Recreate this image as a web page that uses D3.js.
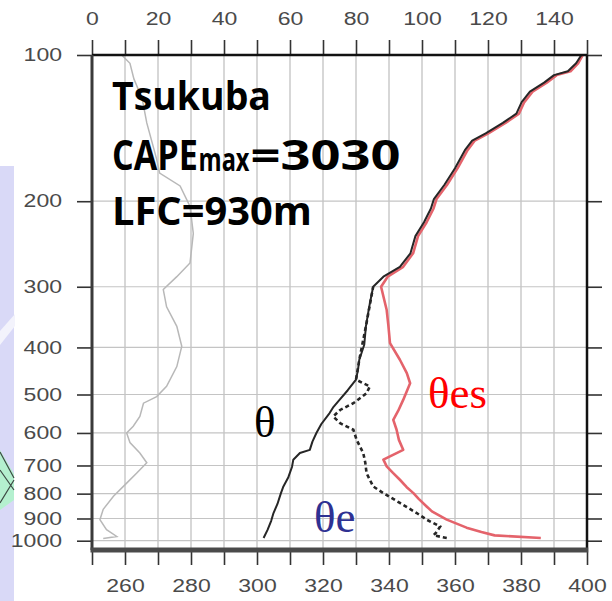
<!DOCTYPE html>
<html>
<head>
<meta charset="utf-8">
<script src="https://cdn.jsdelivr.net/npm/d3@7"></script>
<style>
  body { margin: 0; background: #fff; }
  svg { display: block; }
</style>
</head>
<body>
<svg id="chart" width="612" height="601"></svg>
<script>
// ---- axis ticks ----
const pressureTicks = [100, 200, 300, 400, 500, 600, 700, 800, 900, 1000];
const bottomTicks = [250, 260, 270, 280, 290, 300, 310, 320, 330, 340, 350, 360, 370, 380, 390, 400];
const bottomLabels = [260, 280, 300, 320, 340, 360, 380, 400];
const topTicks = [0, 10, 20, 30, 40, 50, 60, 70, 80, 90, 100, 110, 120, 130, 140, 150];
const topLabels = [0, 20, 40, 60, 80, 100, 120, 140];

// ---- theta (K) ----
const thetaP = [987, 950, 910, 877, 840, 800, 773, 740, 705, 681, 660, 650, 625, 600, 575, 546, 530, 513, 490, 466,
                445, 424, 395, 362, 330, 300, 286, 273, 256, 236, 221, 207, 198, 185, 171, 157, 150, 145, 138, 132,
                125, 119, 114, 110, 108, 104, 100];
const thetaV = [302.0, 303.2, 304.3, 305.0, 306.2, 307.2, 308.0, 309.5, 310.6, 311.0, 313.0, 316.0, 316.8, 318.0, 319.5, 322.0, 323.2, 325.0, 327.5, 330.0,
                330.6, 331.0, 332.5, 333.0, 334.0, 335.2, 338.3, 343.3, 346.5, 348.0, 350.6, 352.7, 353.6, 356.8, 360.0, 363.0, 365.2, 369.3, 374.5, 378.6,
                380.2, 382.7, 387.0, 390.0, 394.2, 396.7, 398.3];

// ---- theta-es (K) ----
const thetaEsP = [987, 975, 960, 940, 905, 870, 850, 820, 798, 775, 749, 725, 703, 681, 660, 650, 620, 591, 564, 540,
                  513, 474, 452, 424, 392, 360, 335, 300, 286, 273, 256, 236, 221, 207, 198, 185, 171, 157, 150, 145,
                  138, 132, 125, 119, 114, 110, 108, 104, 100];
const thetaEsV = [386, 372, 368, 363.5, 357.5, 353, 351.4, 349, 347.4, 345.3, 343.3, 341.2, 339.3, 338.3, 342.3, 344.3, 343, 342.3, 341.3, 342.8,
                  344.3, 346.4, 345.4, 343.3, 340.3, 339.8, 339.3, 337.6, 339.6, 344.3, 347.3, 348.8, 351.4, 353.5, 354.4, 357.6, 360.8, 363.8, 366.0, 370.1,
                  375.3, 379.4, 381.0, 383.5, 387.8, 390.8, 395.0, 397.3, 398.7];

// ---- theta-e (K) ----
const thetaEP = [987, 975, 960, 935, 905, 877, 836, 798, 773, 726, 690, 660, 620, 591, 573, 555, 538, 521, 497, 481,
                 474, 466, 424, 362, 300];
const thetaEV = [357.5, 353.5, 354.4, 355.5, 351.4, 348.4, 343.3, 338.3, 335.2, 333.2, 332.8, 332.2, 330.2, 329.2, 325.2, 323.1, 325.2, 329.2, 333.2, 334.2,
                 332.2, 330.0, 331.0, 333.0, 335.2];

// ---- grey profile on the upper axis ----
const upperP = [100, 104, 112, 123, 138, 164, 175, 186, 205, 233, 268, 286, 304, 330, 362, 398, 438, 481, 505, 521,
                555, 581, 600, 628, 660, 691, 726, 761, 810, 862, 905, 949, 980, 990];
const upperV = [9, 11.5, 12.7, 15.2, 16.6, 19.6, 20.5, 26.7, 29.7, 30.7, 29.7, 25.7, 21.6, 22.6, 25.7, 27.2, 25.7, 22.6, 19.6, 15.6,
                14.5, 12.5, 10.5, 11.5, 14.5, 16.6, 13.5, 10.5, 6.5, 3.4, 2.4, 4.4, 7.5, 3.4];

class SoundingChart {
    margin = {top: 55, right: 25, bottom: 51, left: 92}

    constructor(svg, width = 612, height = 601) {
        this.svg = d3.select(svg);
        this.width = width;
        this.height = height;
    }

    initialize() {
        const m = this.margin;
        this.x = d3.scaleLinear().domain([250, 400]).range([m.left, this.width - m.right]);
        this.xTop = d3.scaleLinear().domain([0, 150]).range([m.left, this.width - m.right]);
        this.y = d3.scaleLog().domain([100, 1045]).range([m.top, this.height - m.bottom]);

        this.back = this.svg.append("g");
        this.grid = this.svg.append("g");
        this.lines = this.svg.append("g");
        this.axes = this.svg.append("g");
        this.notes = this.svg.append("g");
    }

    // bits of the slide that show at the left edge
    drawBackdrop() {
        this.back.append("rect")
            .attr("x", 0).attr("y", 166).attr("width", 14).attr("height", 435)
            .attr("fill", "#d9d9f7");
        this.back.append("polygon")
            .attr("points", "0,331 15,314 15,326 0,345")
            .attr("fill", "#f3f3fc");
        this.back.append("polygon")
            .attr("points", "0,450 14,474 14,500 0,510")
            .attr("fill", "#b4f0cf");
        this.back.append("path")
            .attr("d", "M0,452 L14,478 M0,503 L14,480 M0,470 L14,490")
            .attr("stroke", "#3d4a44").attr("stroke-width", 1.2).attr("fill", "none");
    }

    drawGrid() {
        const [x0, x1] = this.x.range();
        const [y0, y1] = this.y.range();

        this.grid.selectAll(".v")
            .data(bottomTicks.slice(1, -1))
            .join("line")
                .attr("class", "v")
                .attr("x1", d => this.x(d)).attr("x2", d => this.x(d))
                .attr("y1", y0).attr("y2", y1)
                .attr("stroke", "#bdbdbd").attr("stroke-width", 1.2);

        this.grid.selectAll(".h")
            .data(pressureTicks.slice(1))
            .join("line")
                .attr("class", "h")
                .attr("x1", x0).attr("x2", x1)
                .attr("y1", d => this.y(d)).attr("y2", d => this.y(d))
                .attr("stroke", "#c4c4c4").attr("stroke-width", 1.2);
    }

    drawLines() {
        const lineOf = (xs, ps, vs) => d3.line()
            .x((d, i) => xs(vs[i]))
            .y(d => this.y(d))(ps);

        this.lines.append("path")
            .attr("d", lineOf(this.xTop, upperP, upperV))
            .attr("fill", "none").attr("stroke", "#b8b8b8").attr("stroke-width", 1.5);

        this.lines.append("path")
            .attr("d", lineOf(this.x, thetaEsP, thetaEsV))
            .attr("fill", "none").attr("stroke", "#e4636b").attr("stroke-width", 2.6)
            .attr("stroke-linejoin", "round");

        this.lines.append("path")
            .attr("d", lineOf(this.x, thetaP, thetaV))
            .attr("fill", "none").attr("stroke", "#262626").attr("stroke-width", 2)
            .attr("stroke-linejoin", "round");

        this.lines.append("path")
            .attr("d", lineOf(this.x, thetaEP, thetaEV))
            .attr("fill", "none").attr("stroke", "#262626").attr("stroke-width", 2.6)
            .attr("stroke-dasharray", "4,3");
    }

    drawAxes() {
        const sx = 1.28;
        const [x0, x1] = this.x.range();
        const [y0, y1] = this.y.range();

        const styled = (g) => {
            g.attr("font-family", "'Liberation Sans', Arial, sans-serif").attr("font-size", 18);
            g.select(".domain").remove();
            g.selectAll(".tick line").attr("stroke", "#333").attr("stroke-width", 1.6);
            g.selectAll(".tick text").attr("fill", "#4a4a4a").attr("transform", `scale(${sx},1)`);
        };

        this.axes.append("g")
            .attr("transform", `translate(0,${y1})`)
            .call(d3.axisBottom(this.x).tickValues(bottomTicks).tickSize(15).tickPadding(14)
                .tickFormat(d => bottomLabels.includes(d) ? d : ""))
            .call(styled);

        this.axes.append("g")
            .attr("transform", `translate(0,${y0})`)
            .call(d3.axisTop(this.xTop).tickValues(topTicks).tickSize(15).tickPadding(15)
                .tickFormat(d => topLabels.includes(d) ? d : ""))
            .call(styled);

        this.axes.append("g")
            .attr("transform", `translate(${x0},0)`)
            .call(d3.axisLeft(this.y).tickValues(pressureTicks).tickSize(15).tickPadding(15)
                .tickFormat(d => d))
            .call(styled)
            .call(g => g.selectAll(".tick text").attr("x", -30 / sx));

        this.axes.append("g")
            .attr("transform", `translate(${x1},0)`)
            .call(d3.axisRight(this.y).tickValues(pressureTicks).tickSize(15).tickFormat(""))
            .call(styled);

        // frame
        const frame = [
            {x1: x0, y1: y0, x2: x1, y2: y0, c: "#111", w: 2.5},
            {x1: x1, y1: y0, x2: x1, y2: y1, c: "#111", w: 2.5},
            {x1: x0, y1: y0, x2: x0, y2: y1, c: "#3a3a3a", w: 3},
            {x1: x0 - 1.5, y1: y1, x2: x1 + 1.2, y2: y1, c: "#4a4a4a", w: 5}
        ];
        this.axes.selectAll(".frame")
            .data(frame)
            .join("line")
                .attr("class", "frame")
                .attr("x1", d => d.x1).attr("y1", d => d.y1)
                .attr("x2", d => d.x2).attr("y2", d => d.y2)
                .attr("stroke", d => d.c).attr("stroke-width", d => d.w);
    }

    drawNotes() {
        const bold = "'Open Sans', 'Noto Sans', sans-serif";
        // each piece is squeezed/stretched to the width it has in the picture
        const words = [
            {t: "Tsukuba", x: 112, y: 110, s: 40, w: 159},
            {t: "CAPE", x: 112, y: 170, s: 42, w: 86},
            {t: "max", x: 198.5, y: 171, s: 33, w: 51},
            {t: "=3030", x: 250.5, y: 170, s: 42, w: 150},
            {t: "LFC=930m", x: 112, y: 225, s: 40, w: 200}
        ];
        this.notes.selectAll(".word")
            .data(words)
            .join("text")
                .attr("class", "word")
                .attr("font-family", bold).attr("font-weight", 700)
                .attr("font-size", d => d.s)
                .attr("fill", "#000")
                .text(d => d.t)
                .attr("transform", function(d) {
                    const k = d.w / this.getComputedTextLength();
                    return `translate(${d.x},${d.y}) scale(${k},1)`;
                });

        const serif = "'Liberation Serif', 'Times New Roman', serif";
        const greek = [
            {t: "θ", x: 254, y: 437, c: "#000"},
            {t: "θes", x: 428, y: 408, c: "#f00"},
            {t: "θe", x: 314, y: 532, c: "#2e3192"}
        ];
        this.notes.selectAll(".greek")
            .data(greek)
            .join("text")
                .attr("class", "greek")
                .attr("x", d => d.x).attr("y", d => d.y)
                .attr("font-family", serif).attr("font-size", 45)
                .attr("fill", d => d.c)
                .text(d => d.t);
    }
}

const chart = new SoundingChart("#chart");
chart.initialize();
chart.drawBackdrop();
chart.drawGrid();
chart.drawLines();
chart.drawAxes();
chart.drawNotes();
</script>
</body>
</html>
